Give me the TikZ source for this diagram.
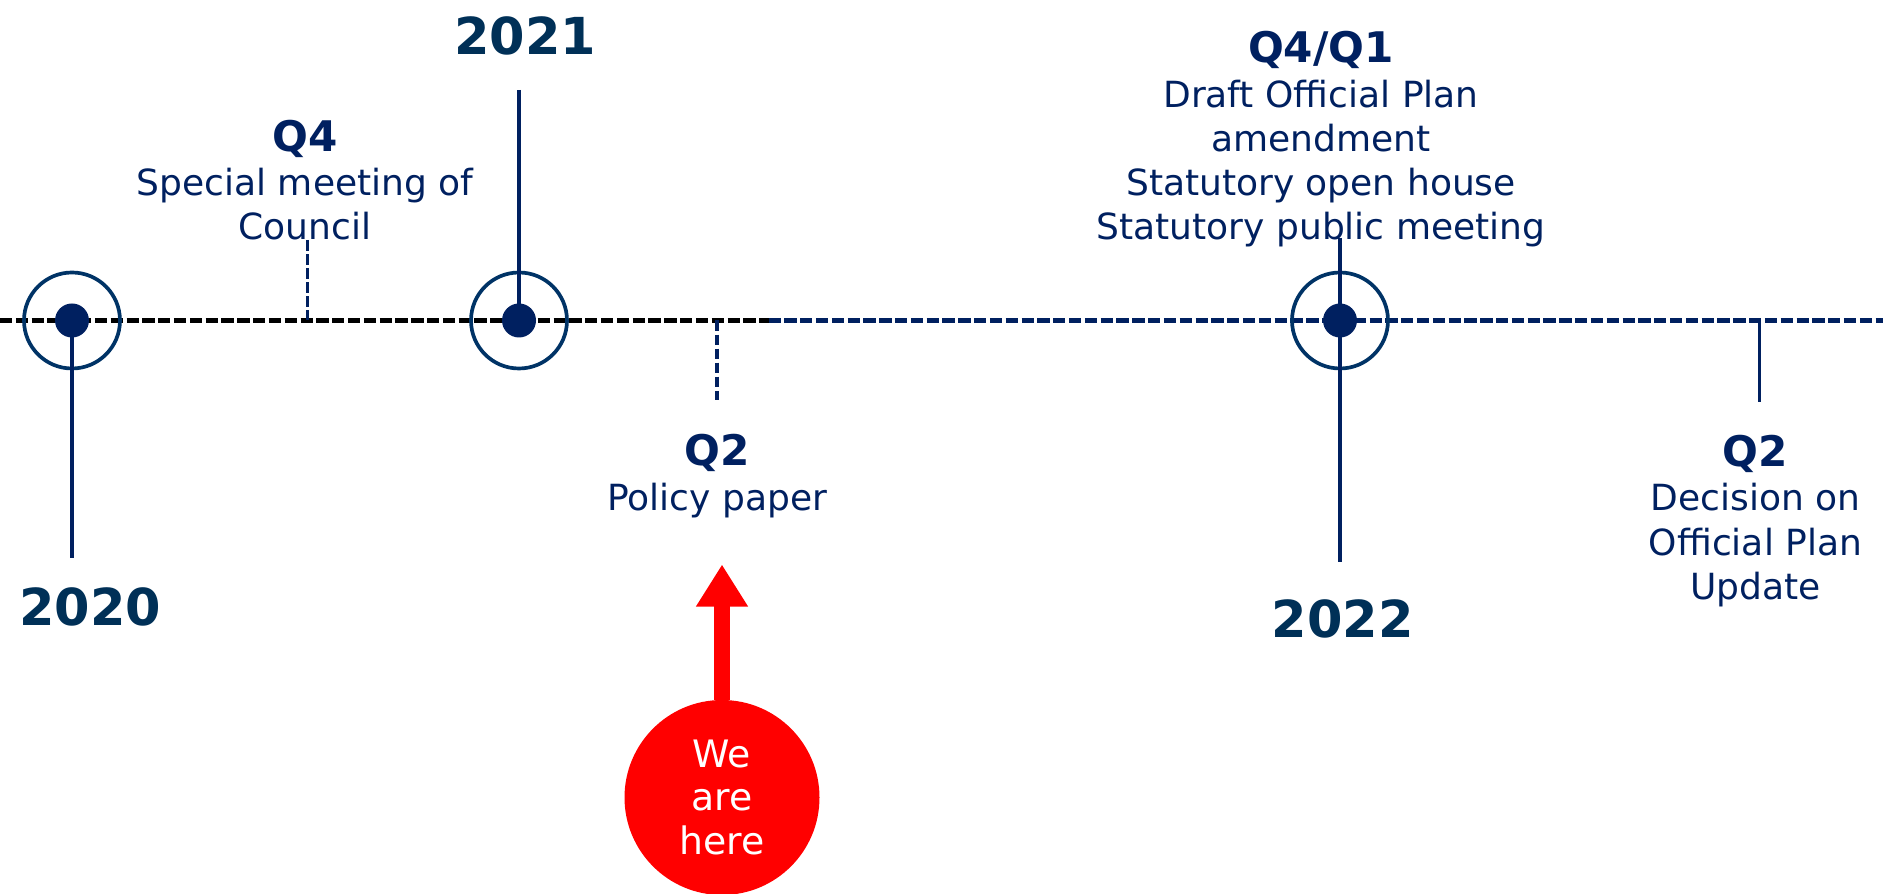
\documentclass[tikz,border=0pt]{standalone}
\usepackage{fontspec}
\setmainfont{DejaVu Sans}
\usetikzlibrary{arrows.meta}
\definecolor{navy}{RGB}{0,32,96}
\definecolor{yearblue}{RGB}{0,48,87}
\definecolor{ringblue}{RGB}{0,51,102}
\definecolor{herered}{RGB}{255,0,0}
\tikzset{
	ring/.style={circle,draw=ringblue,line width=2.1pt,minimum size=1.92cm,inner sep=0pt},
	dot/.style={circle,fill=navy,minimum size=0.68cm,inner sep=0pt},
	stem/.style={navy,line width=2pt},
	qtick/.style={navy,line width=1.8pt,dash pattern=on 6pt off 2pt},
	year/.style={yearblue,font=\fontsize{29}{34}\selectfont\bfseries},
	info/.style={navy,align=center,font=\fontsize{20.5}{25.2}\selectfont},
}
\newcommand{\qhead}[1]{{\fontsize{24}{25.2}\selectfont\bfseries #1}}
\begin{document}
\begin{tikzpicture}
	\useasboundingbox (0,0) rectangle (37.66,17.87);
	% time line
	\coordinate (west) at (0,11.46);
	\coordinate (mid) at (15.37,11.46);
	\coordinate (east) at (37.66,11.46);
	\draw[black,line width=2.5pt,dash pattern=on 7pt off 2pt] (west)--(mid);
	\draw[navy,line width=2.5pt,dash pattern=on 7pt off 2pt] (mid)--(east);
	% quarter ticks
	\coordinate (t4) at (6.15,13.07);
	\coordinate (t2) at (14.34,9.87);
	\coordinate (t2b) at (35.19,9.82);
	\draw[qtick] (t4)--(t4 |- west);
	\draw[qtick] (t2 |- west)--(t2);
	\draw[stem] (t2b |- west)--(t2b);
	% years
	\node[ring] (r20) at (1.44,11.46) {};
	\node[dot] (d20) at (r20) {};
	\node[ring] (r21) at (10.38,11.46) {};
	\node[dot] (d21) at (r21) {};
	\node[ring] (r22) at (26.80,11.46) {};
	\node[dot] (d22) at (r22) {};
	\coordinate (s20) at (1.44,6.70);
	\coordinate (s21) at (10.38,16.07);
	\coordinate (s22a) at (26.80,13.11);
	\coordinate (s22b) at (26.80,6.63);
	\draw[stem] (d20.center)--(s20);
	\draw[stem] (s21)--(d21.center);
	\draw[stem] (s22a)--(s22b);
	\node[year] (y20) at (1.80,5.74) {2020};
	\node[year] (y21) at (10.50,17.15) {2021};
	\node[year] (y22) at (26.85,5.50) {2022};
	% texts
	\node[info] (q4) at (6.10,14.27) {\qhead{Q4}\\Special meeting of\\Council};
	\node[info] (q2) at (14.34,8.35) {\qhead{Q2}\\Policy paper};
	\node[info] (q41) at (26.42,15.08) {\qhead{Q4/Q1}\\Draft Official Plan\\amendment\\Statutory open house\\Statutory public meeting};
	\node[info] (q2b) at (35.11,7.45) {\qhead{Q2}\\Decision on\\Official Plan\\Update};
	% we are here
	\node[circle,fill=herered,minimum size=3.9cm,inner sep=0pt,text=white,align=center,
		font=\fontsize{21.5}{25}\selectfont] (here) at (14.44,1.92) {We\\are\\here};
	\coordinate (tip) at (14.44,6.58);
	\draw[herered,line width=9.5pt,-{Triangle[width=28pt,length=24pt]}] (here.north)--(tip);
\end{tikzpicture}
\end{document}
